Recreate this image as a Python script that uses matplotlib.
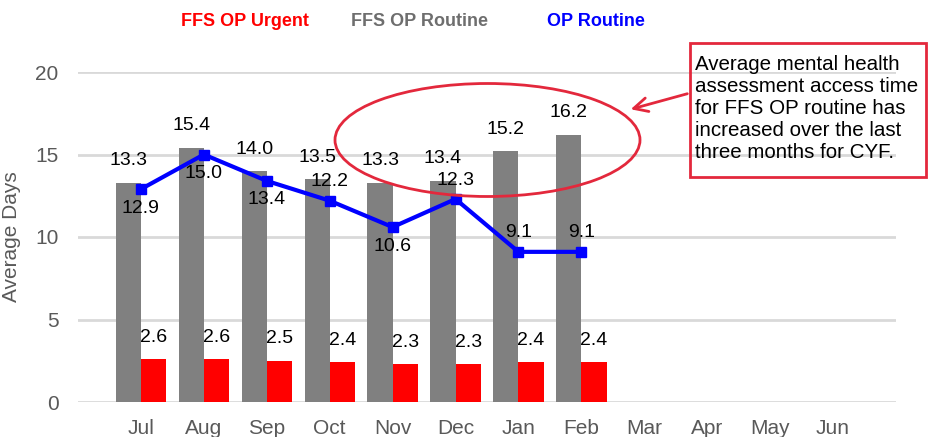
import numpy as np
import matplotlib
matplotlib.use('Agg')
from matplotlib import pyplot as plt
from matplotlib.patches import Ellipse, Rectangle

plt.rcParams['font.family'] = ['Liberation Sans', 'DejaVu Sans']

months = ['Jul', 'Aug', 'Sep', 'Oct', 'Nov', 'Dec', 'Jan', 'Feb', 'Mar', 'Apr', 'May', 'Jun']
ffs_urgent = [2.6, 2.6, 2.5, 2.4, 2.3, 2.3, 2.4, 2.4]
ffs_routine = [13.3, 15.4, 14.0, 13.5, 13.3, 13.4, 15.2, 16.2]
op_routine = [12.9, 15.0, 13.4, 12.2, 10.6, 12.3, 9.1, 9.1]
# where the OP routine label sits: below (-1) or above (+1) the point
op_label_side = [-1, -1, -1, 1, -1, 1, 1, 1]

W, H = 929, 437
fig = plt.figure(figsize=(W / 100, H / 100), dpi=100)
ax = fig.add_axes([78 / W, 1 - 402 / H, (896 - 78) / W, (402 - 72) / H])

x = np.arange(len(ffs_routine))
bw = 0.4
ax.bar(x - bw / 2, ffs_routine, bw, color='#808080', zorder=2)
ax.bar(x + bw / 2, ffs_urgent, bw, color='#ff0000', zorder=2)
ax.plot(x, op_routine, color='#0000ff', lw=3, marker='s', ms=7, zorder=3)

for i in range(len(x)):
    ax.annotate(f'{ffs_routine[i]:.1f}', (x[i] - bw / 2, ffs_routine[i]), xytext=(0, 22),
                textcoords='offset pixels', ha='center', va='center', fontsize=14)
    ax.annotate(f'{ffs_urgent[i]:.1f}', (x[i] + bw / 2, ffs_urgent[i]), xytext=(0, 22),
                textcoords='offset pixels', ha='center', va='center', fontsize=14)
    ax.annotate(f'{op_routine[i]:.1f}', (x[i], op_routine[i]), xytext=(0, 19 * op_label_side[i]),
                textcoords='offset pixels', ha='center', va='center', fontsize=14, zorder=4)

ax.set_xlim(-1, 12)
ax.set_ylim(0, 20)
ax.set_xticks(np.arange(len(months)))
ax.set_xticklabels(months)
ax.set_yticks([0, 5, 10, 15, 20])
ax.tick_params(length=0, labelsize=15, colors='#595959')
ax.tick_params(axis='x', pad=12)
ax.tick_params(axis='y', pad=14)
ax.grid(axis='y', color='#d9d9d9', lw=2, zorder=0)
for s in ax.spines.values():
    s.set_visible(False)
ax.set_ylabel('Average Days', fontsize=15, color='#595959', labelpad=10)

# legend as coloured text
fig.text(245 / W, 1 - 22 / H, 'FFS OP Urgent', color='#ff0000', fontsize=13, weight='bold', ha='center', va='center')
fig.text(420 / W, 1 - 22 / H, 'FFS OP Routine', color='#6e6e6e', fontsize=13, weight='bold', ha='center', va='center')
fig.text(596 / W, 1 - 22 / H, 'OP Routine', color='#0000ff', fontsize=13, weight='bold', ha='center', va='center')

# callout
red = '#e3283c'
fig.patches.append(Ellipse((487.5 / W, 1 - 140 / H), 305 / W, 113 / H, fill=False,
                           edgecolor=red, lw=2, transform=fig.transFigure))
fig.patches.append(Rectangle((690 / W, 1 - 177 / H), (926 - 690) / W, (177 - 43) / H, fill=False,
                             edgecolor=red, lw=2, transform=fig.transFigure))
fig.text(695 / W, 1 - 109 / H,
         'Average mental health\nassessment access time\nfor FFS OP routine has\nincreased over the last\nthree months for CYF.',
         fontsize=14.8, ha='left', va='center', linespacing=1.2)
ax.annotate('', xy=(628 / W, 1 - 110 / H), xytext=(690 / W, 1 - 93 / H),
            xycoords='figure fraction', textcoords='figure fraction',
            arrowprops=dict(arrowstyle='->,head_length=1.0,head_width=0.5', color=red, lw=2))

fig.savefig('out.png', dpi=100)
